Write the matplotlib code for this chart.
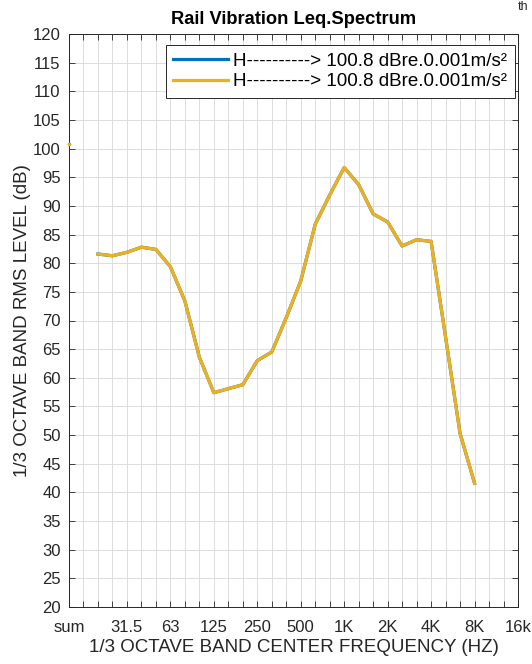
import matplotlib
matplotlib.use("Agg")
import matplotlib.pyplot as plt
import numpy as np

plt.rcParams['font.family'] = ['Liberation Sans', 'DejaVu Sans']

# band index positions: 0 = sum, 1 = 16 Hz, 2 = 20 Hz, ... 31 = 16 kHz
tick_labels = ['sum', '31.5', '63', '125', '250', '500', '1K', '2K', '4K', '8K', '16k']
tick_label_pos = [0, 4, 7, 10, 13, 16, 19, 22, 25, 28, 31]

sum_value = 100.8
band_index = list(range(2, 29))  # 20 Hz .. 8 kHz
levels = [81.6, 81.3, 81.9, 82.8, 82.4, 79.4, 73.4, 63.6, 57.4, 58.1,
          58.8, 63.0, 64.5, 70.5, 76.9, 86.8, 91.9, 96.7, 93.7, 88.6,
          87.2, 83.0, 84.1, 83.8, 67.1, 50.3, 41.6]

label_text = 'H----------> 100.8 dBre.0.001m/s\u00b2'
blue = '#0072BD'
yellow = '#EDB120'
dark = '#262626'

fig = plt.figure(figsize=(5.32, 6.64), dpi=100)
ax = fig.add_axes([69/532, 1 - 607/664, (518 - 69)/532, (607 - 34)/664])

ax.plot(band_index, levels, color=blue, lw=2.3, label=label_text, zorder=3)
ax.plot(band_index, levels, color=yellow, lw=2.3, label=label_text, zorder=4)
ax.plot([0], [sum_value], '.', color=blue, ms=3, zorder=3, clip_on=False)
ax.plot([0], [sum_value], '.', color=yellow, ms=3, zorder=4, clip_on=False)

ax.set_xlim(0, 31)
ax.set_ylim(20, 120)
positions = list(range(0, 32))
lab_map = dict(zip(tick_label_pos, tick_labels))
ax.set_xticks(positions)
ax.set_xticklabels([lab_map.get(p, '') for p in positions])
ax.set_yticks(np.arange(20, 121, 5))
ax.tick_params(axis='both', which='major', direction='in', length=4, width=0.6,
               top=True, right=True, labelsize=12, colors=dark)
ax.tick_params(axis='x', pad=9)
ax.tick_params(axis='y', pad=6)
ax.grid(True, which='major', color='#dcdcdc', lw=0.7)
ax.set_axisbelow(True)
for s in ax.spines.values():
    s.set_color(dark)
    s.set_linewidth(0.7)

ax.set_xlabel('1/3 OCTAVE BAND CENTER FREQUENCY (HZ)', fontsize=13.5, color=dark, labelpad=3)
ax.set_ylabel('1/3 OCTAVE BAND RMS LEVEL (dB)', fontsize=13.5, color=dark, labelpad=1)
ax.set_title('Rail Vibration Leq.Spectrum', fontsize=13.2, fontweight='bold', pad=7)

leg = ax.legend(loc='upper right', bbox_to_anchor=(0.9933, 0.981), fontsize=13.5,
                frameon=True, fancybox=False, edgecolor=dark, framealpha=1,
                handlelength=2.9, borderpad=0.4, labelspacing=0.2, handletextpad=0.3,
                borderaxespad=0)
leg.get_frame().set_linewidth(0.7)

fig.text(518/532, 1 - 10/664, 'th', fontsize=9, va='baseline', ha='left', color=dark)

fig.savefig('out.png', dpi=100)
